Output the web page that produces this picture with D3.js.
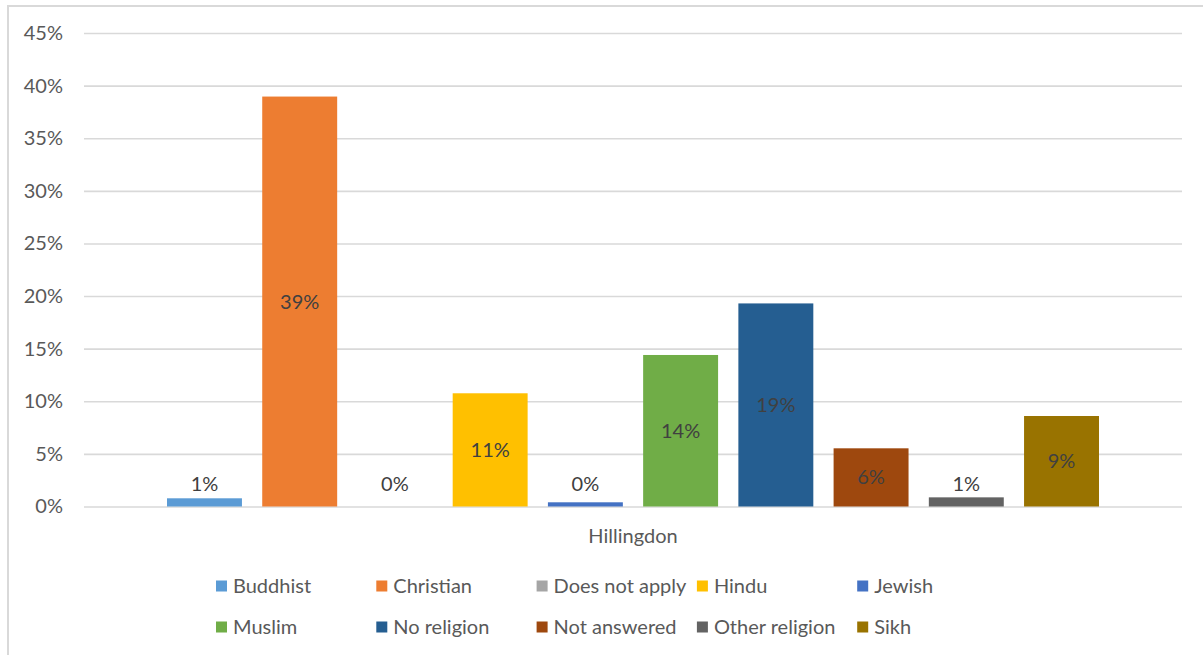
<!DOCTYPE html>
<html>
<head>
<meta charset="utf-8">
<script src="https://cdn.jsdelivr.net/npm/d3@7"></script>
<style>
  html, body { margin: 0; padding: 0; background: #fff; }
  svg { display: block; font-family: Lato, "Open Sans", sans-serif; }
</style>
</head>
<body>
<svg id="chart" width="1203" height="655"></svg>
<script>
// Religion breakdown for Hillingdon (share of respondents)
const categories = ["Hillingdon"];
const seriesNames = ["Buddhist", "Christian", "Does not apply", "Hindu", "Jewish",
                     "Muslim", "No religion", "Not answered", "Other religion", "Sikh"];
const seriesValues = [0.0078, 0.3896, 0.0, 0.1076, 0.004, 0.144, 0.193, 0.0553, 0.0087, 0.086];
const seriesColors = ["#5B9BD5", "#ED7D31", "#A5A5A5", "#FFC000", "#4472C4",
                      "#70AD47", "#255E91", "#9E480E", "#636363", "#997300"];
const yTicks = [0, 0.05, 0.10, 0.15, 0.20, 0.25, 0.30, 0.35, 0.40, 0.45];

const W = 1203, H = 655;
const FS = 20;
const plot = { left: 84, right: 1182, top: 33, bottom: 506.5 };
const svg = d3.select("#chart");

// outer frame (top and left edges)
svg.append("line").attr("x1", 7).attr("x2", W).attr("y1", 6).attr("y2", 6)
  .attr("stroke", "#d9d9d9").attr("stroke-width", 2);
svg.append("line").attr("x1", 8).attr("x2", 8).attr("y1", 6).attr("y2", H)
  .attr("stroke", "#d9d9d9").attr("stroke-width", 2);

const y = d3.scaleLinear().domain([0, 0.45]).range([plot.bottom, plot.top]);
const x0 = d3.scaleBand().domain(categories).range([plot.left, plot.right]).paddingOuter(0).paddingInner(0);
const groupInset = 83;
const x1 = d3.scaleBand().domain(seriesNames)
  .range([groupInset, x0.bandwidth() - groupInset])
  .paddingInner(0.213).paddingOuter(0);
const color = d3.scaleOrdinal().domain(seriesNames).range(seriesColors);
const pct = d3.format(".0%");

// gridlines + y tick labels
const yAxis = d3.axisLeft(y).tickValues(yTicks).tickFormat(pct)
  .tickSize(-(plot.right - plot.left)).tickPadding(21);
const gy = svg.append("g").attr("transform", `translate(${plot.left},0)`).call(yAxis);
gy.select(".domain").remove();
gy.selectAll(".tick line").attr("stroke", "#d9d9d9").attr("stroke-width", 1.6);
gy.selectAll(".tick text").attr("fill", "#595959").attr("font-size", FS)
  .attr("font-family", "Lato, 'Open Sans', sans-serif");

// category axis label
const xAxis = d3.axisBottom(x0).tickSize(0).tickPadding(22);
const gx = svg.append("g").attr("transform", `translate(0,${plot.bottom})`).call(xAxis);
gx.select(".domain").remove();
gx.selectAll(".tick text").attr("fill", "#595959").attr("font-size", FS)
  .attr("font-family", "Lato, 'Open Sans', sans-serif");

// bars
const rows = categories.map(c => ({ category: c,
  items: seriesNames.map((s, i) => ({ name: s, value: seriesValues[i] })) }));
const groups = svg.append("g").selectAll("g").data(rows).join("g")
  .attr("transform", d => `translate(${x0(d.category)},0)`);

groups.selectAll("rect").data(d => d.items).join("rect")
  .attr("x", d => x1(d.name))
  .attr("width", x1.bandwidth())
  .attr("y", d => y(d.value))
  .attr("height", d => y(0) - y(d.value))
  .attr("fill", d => color(d.name));

// data labels: centred in the bar, lifted above the axis for very short bars
groups.selectAll("text.lbl").data(d => d.items).join("text")
  .attr("class", "lbl")
  .attr("x", d => x1(d.name) + x1.bandwidth() / 2)
  .attr("y", d => Math.min((y(d.value) + y(0)) / 2, y(0) - 23))
  .attr("dy", "0.35em")
  .attr("text-anchor", "middle")
  .attr("font-size", FS)
  .attr("fill", "#404040")
  .text(d => pct(d.value));

// legend: two rows of five
const legendCols = 5;
const legX = d3.scaleLinear().domain([0, 1]).range([216, 376.3]);
const legY = d3.scaleLinear().domain([0, 1]).range([586, 627]);
const leg = svg.append("g").selectAll("g").data(seriesNames).join("g")
  .attr("transform", (d, i) => `translate(${legX(i % legendCols)},${legY(Math.floor(i / legendCols))})`);
leg.append("rect").attr("x", 0).attr("y", -5.5).attr("width", 11).attr("height", 11)
  .attr("fill", d => color(d));
leg.append("text").attr("x", 17).attr("y", 0).attr("dy", "0.35em")
  .attr("font-size", FS).attr("fill", "#595959").text(d => d);
</script>
</body>
</html>
